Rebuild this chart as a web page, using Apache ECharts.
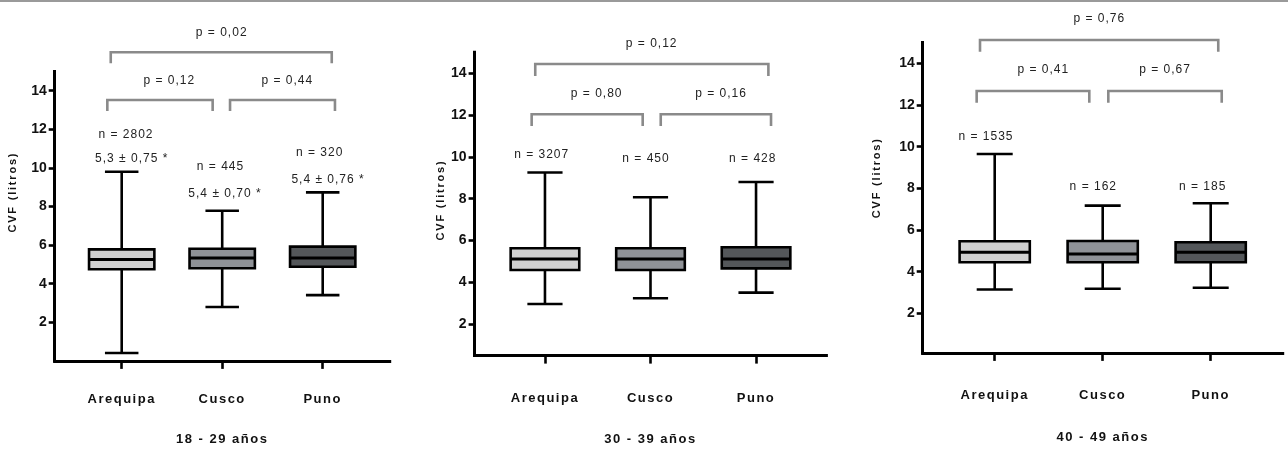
<!DOCTYPE html>
<html><head><meta charset="utf-8">
<script src="https://cdn.jsdelivr.net/npm/echarts@6/dist/echarts.min.js"></script>
<style>html,body{margin:0;padding:0;background:#fff}#c{width:1288px;height:456px}</style>
</head><body><div id="c"></div>
<script>
// ---------- data ----------
const categories = ['Arequipa', 'Cusco', 'Puno'];
const yTicks = [2, 4, 6, 8, 10, 12, 14];
const panelTitles = ['18 - 29 años', '30 - 39 años', '40 - 49 años'];
const yName = 'CVF (litros)';

// 18 - 29 años
const p1Min    = [0.41, 2.79, 3.41];
const p1Q1     = [4.75, 4.80, 4.88];
const p1Median = [5.26, 5.33, 5.33];
const p1Q3     = [5.78, 5.81, 5.92];
const p1Max    = [9.80, 7.78, 8.73];
const p1N      = ['n = 2802', 'n = 445', 'n = 320'];
const p1Mean   = ['5,3 ± 0,75 *', '5,4 ± 0,70 *', '5,4 ± 0,76 *'];
const p1P      = ['p = 0,12', 'p = 0,44', 'p = 0,02'];

// 30 - 39 años
const p2Min    = [2.97, 3.24, 3.51];
const p2Q1     = [4.59, 4.59, 4.67];
const p2Median = [5.12, 5.12, 5.12];
const p2Q3     = [5.63, 5.63, 5.68];
const p2Max    = [9.25, 8.07, 8.80];
const p2N      = ['n = 3207', 'n = 450', 'n = 428'];
const p2Mean   = [];
const p2P      = ['p = 0,80', 'p = 0,16', 'p = 0,12'];

// 40 - 49 años
const p3Min    = [3.14, 3.18, 3.23];
const p3Q1     = [4.45, 4.45, 4.45];
const p3Median = [4.93, 4.85, 4.93];
const p3Q3     = [5.46, 5.47, 5.41];
const p3Max    = [9.65, 7.17, 7.28];
const p3N      = ['n = 1535', 'n = 162', 'n = 185'];
const p3Mean   = [];
const p3P      = ['p = 0,41', 'p = 0,67', 'p = 0,76'];

// ---------- layout / style (annotation placement in data units) ----------
const panels = [
  { grid: {left: 54.7, right: 898.3, top: 71.4, bottom: 95.1}, yMin: 0,
    labelMargin: 32.5, nameGap: 72.5, yNameGap: 36, yNamePad: 48,
    stats: [p1Min, p1Q1, p1Median, p1Q3, p1Max], n: p1N, mean: p1Mean, p: p1P,
    brackets: [[0.857, 1.905, 13.52, 12.95], [2.078, 3.122, 13.52, 12.95], [0.891, 3.090, 15.99, 15.42]],
    pPos: [[1.474, 14.50], [2.648, 14.50], [1.995, 16.99]],
    nPos: [[1.043, 11.74], [1.983, 10.06], [2.970, 10.81]],
    meanPos: [[1.10, 10.46], [2.028, 8.65], [3.053, 9.37]] },
  { grid: {left: 474.6, right: 461.6, top: 52.3, bottom: 100.4}, yMin: 0.5,
    labelMargin: 36, nameGap: 77.5, yNameGap: 28, yNamePad: 8,
    stats: [p2Min, p2Q1, p2Median, p2Q3, p2Max], n: p2N, mean: p2Mean, p: p2P,
    brackets: [[0.874, 1.926, 12.04, 11.48], [2.097, 3.142, 12.04, 11.48], [0.908, 3.117, 14.44, 13.87]],
    pPos: [[1.49, 13.04], [2.668, 13.04], [2.011, 15.43]],
    nPos: [[0.969, 10.12], [1.957, 9.93], [2.969, 9.93]],
    meanPos: [] },
  { grid: {left: 922.7, right: 5.3, top: 42.5, bottom: 103.1}, yMin: 0.1,
    labelMargin: 36.3, nameGap: 78.5, yNameGap: 40, yNamePad: 40,
    stats: [p3Min, p3Q1, p3Median, p3Q3, p3Max], n: p3N, mean: p3Mean, p: p3P,
    brackets: [[0.833, 1.876, 12.67, 12.11], [2.052, 3.102, 12.67, 12.11], [0.864, 3.070, 15.12, 14.56]],
    pPos: [[1.45, 13.68], [2.577, 13.68], [1.969, 16.16]],
    nPos: [[0.919, 10.48], [1.913, 8.08], [2.926, 8.08]],
    meanPos: [] }
];
const boxFills = ['#d0d0d0', '#8f9297', '#54575a'];
const FONT = '"Liberation Sans", Arial, sans-serif';

// letter spacing by text role (weight + size)
(function () {
  const spacing = {'normal 12': 1, 'bold 13': 1.5, 'bold 11': 1.8, 'bold 14': 0};
  const orig = CanvasRenderingContext2D.prototype.fillText;
  CanvasRenderingContext2D.prototype.fillText = function (t, x, y, w) {
    const f = this.font || '';
    const m = /(\d+(?:\.\d+)?)px/.exec(f);
    const bold = /bold|[6-9]00/.test(f) ? 'bold' : 'normal';
    const key = bold + ' ' + (m ? Math.round(parseFloat(m[1])) : '');
    const s = spacing[key];
    try { this.letterSpacing = (s || 0) + 'px'; } catch (e) {}
    return w === undefined ? orig.call(this, t, x, y) : orig.call(this, t, x, y, w);
  };
})();

// ---------- render helpers ----------
function renderBox(params, api) {
  const x = api.value(0);
  const pMin = api.coord([x, api.value(1)]);
  const pQ1 = api.coord([x, api.value(2)]);
  const pMed = api.coord([x, api.value(3)]);
  const pQ3 = api.coord([x, api.value(4)]);
  const pMax = api.coord([x, api.value(5)]);
  const bw = api.size([0.65, 0])[0];
  const cw = api.size([1 / 3, 0])[0];
  const cx = pMed[0];
  const ls = {stroke: '#000', lineWidth: 2.6};
  return {type: 'group', children: [
    {type: 'line', shape: {x1: cx, y1: pMax[1], x2: cx, y2: pQ3[1]}, style: ls},
    {type: 'line', shape: {x1: cx, y1: pQ1[1], x2: cx, y2: pMin[1]}, style: ls},
    {type: 'line', shape: {x1: cx - cw / 2, y1: pMax[1], x2: cx + cw / 2, y2: pMax[1]}, style: ls},
    {type: 'line', shape: {x1: cx - cw / 2, y1: pMin[1], x2: cx + cw / 2, y2: pMin[1]}, style: ls},
    {type: 'rect', shape: {x: cx - bw / 2, y: pQ3[1], width: bw, height: pQ1[1] - pQ3[1]},
      style: {fill: boxFills[params.dataIndex], stroke: '#000', lineWidth: 2.6}},
    {type: 'line', shape: {x1: cx - bw / 2, y1: pMed[1], x2: cx + bw / 2, y2: pMed[1]}, style: {stroke: '#000', lineWidth: 3}}
  ]};
}
function renderBracket(params, api) {
  const x1 = api.value(0), x2 = api.value(1), yT = api.value(2), yL = api.value(3);
  const pts = [api.coord([x1, yL]), api.coord([x1, yT]), api.coord([x2, yT]), api.coord([x2, yL])];
  return {type: 'polyline', shape: {points: pts}, style: {stroke: '#8a8a8a', lineWidth: 2.6, fill: null}};
}
function makeTextRenderer(texts) {
  return function (params, api) {
    const p = api.coord([api.value(0), api.value(1)]);
    return {type: 'text', x: p[0], y: p[1],
      style: {text: texts[params.dataIndex], fill: '#222', font: '12px ' + FONT, align: 'center', verticalAlign: 'middle'}};
  };
}

const grid = [], xAxis = [], yAxis = [], series = [];
panels.forEach(function (pn, i) {
  grid.push(pn.grid);
  xAxis.push({
    gridIndex: i, type: 'value', min: 1 / 3, max: 3 + 2 / 3,
    axisLine: {show: true, lineStyle: {color: '#000', width: 3, cap: 'square'}},
    axisTick: {show: true, customValues: [1, 2, 3], length: 8, lineStyle: {color: '#000', width: 2.6}},
    axisLabel: {customValues: [1, 2, 3], formatter: function (v) { return categories[Math.round(v) - 1]; },
      margin: pn.labelMargin, color: '#111', fontWeight: 'bold', fontSize: 13, fontFamily: FONT},
    splitLine: {show: false},
    name: panelTitles[i], nameLocation: 'middle', nameGap: pn.nameGap,
    nameTextStyle: {color: '#111', fontWeight: 'bold', fontSize: 13, fontFamily: FONT}
  });
  yAxis.push({
    gridIndex: i, type: 'value', min: pn.yMin, max: 15,
    axisLine: {show: true, lineStyle: {color: '#000', width: 3, cap: 'square'}},
    axisTick: {show: true, customValues: yTicks, length: 6, lineStyle: {color: '#000', width: 2.6}},
    axisLabel: {customValues: yTicks, margin: 8, color: '#111', fontWeight: 'bold', fontSize: 14, fontFamily: FONT},
    splitLine: {show: false},
    name: yName, nameLocation: 'middle', nameRotate: 90, nameGap: pn.yNameGap,
    nameTextStyle: {color: '#111', fontWeight: 'bold', fontSize: 11, fontFamily: FONT, padding: [0, 0, 0, pn.yNamePad]}
  });
  const boxData = categories.map(function (c, k) {
    return [k + 1, pn.stats[0][k], pn.stats[1][k], pn.stats[2][k], pn.stats[3][k], pn.stats[4][k]];
  });
  series.push({type: 'custom', name: panelTitles[i], xAxisIndex: i, yAxisIndex: i, clip: false,
    renderItem: renderBox, encode: {x: 0, y: [1, 2, 3, 4, 5]}, data: boxData, silent: true});
  series.push({type: 'custom', xAxisIndex: i, yAxisIndex: i, clip: false,
    renderItem: renderBracket, encode: {x: [0, 1], y: [2, 3]}, data: pn.brackets, silent: true});
  const texts = pn.p.concat(pn.n).concat(pn.mean);
  const pos = pn.pPos.concat(pn.nPos).concat(pn.meanPos);
  series.push({type: 'custom', xAxisIndex: i, yAxisIndex: i, clip: false,
    renderItem: makeTextRenderer(texts), encode: {x: 0, y: 1}, data: pos, silent: true});
});

const chart = echarts.init(document.getElementById('c'), null, {renderer: 'canvas'});
chart.setOption({
  animation: false,
  backgroundColor: '#fff',
  grid: grid, xAxis: xAxis, yAxis: yAxis, series: series,
  graphic: [
    {type: 'rect', shape: {x: 0, y: 0, width: 1288, height: 2}, style: {fill: '#9a9a9a'}, silent: true}
  ]
});
</script></body></html>
